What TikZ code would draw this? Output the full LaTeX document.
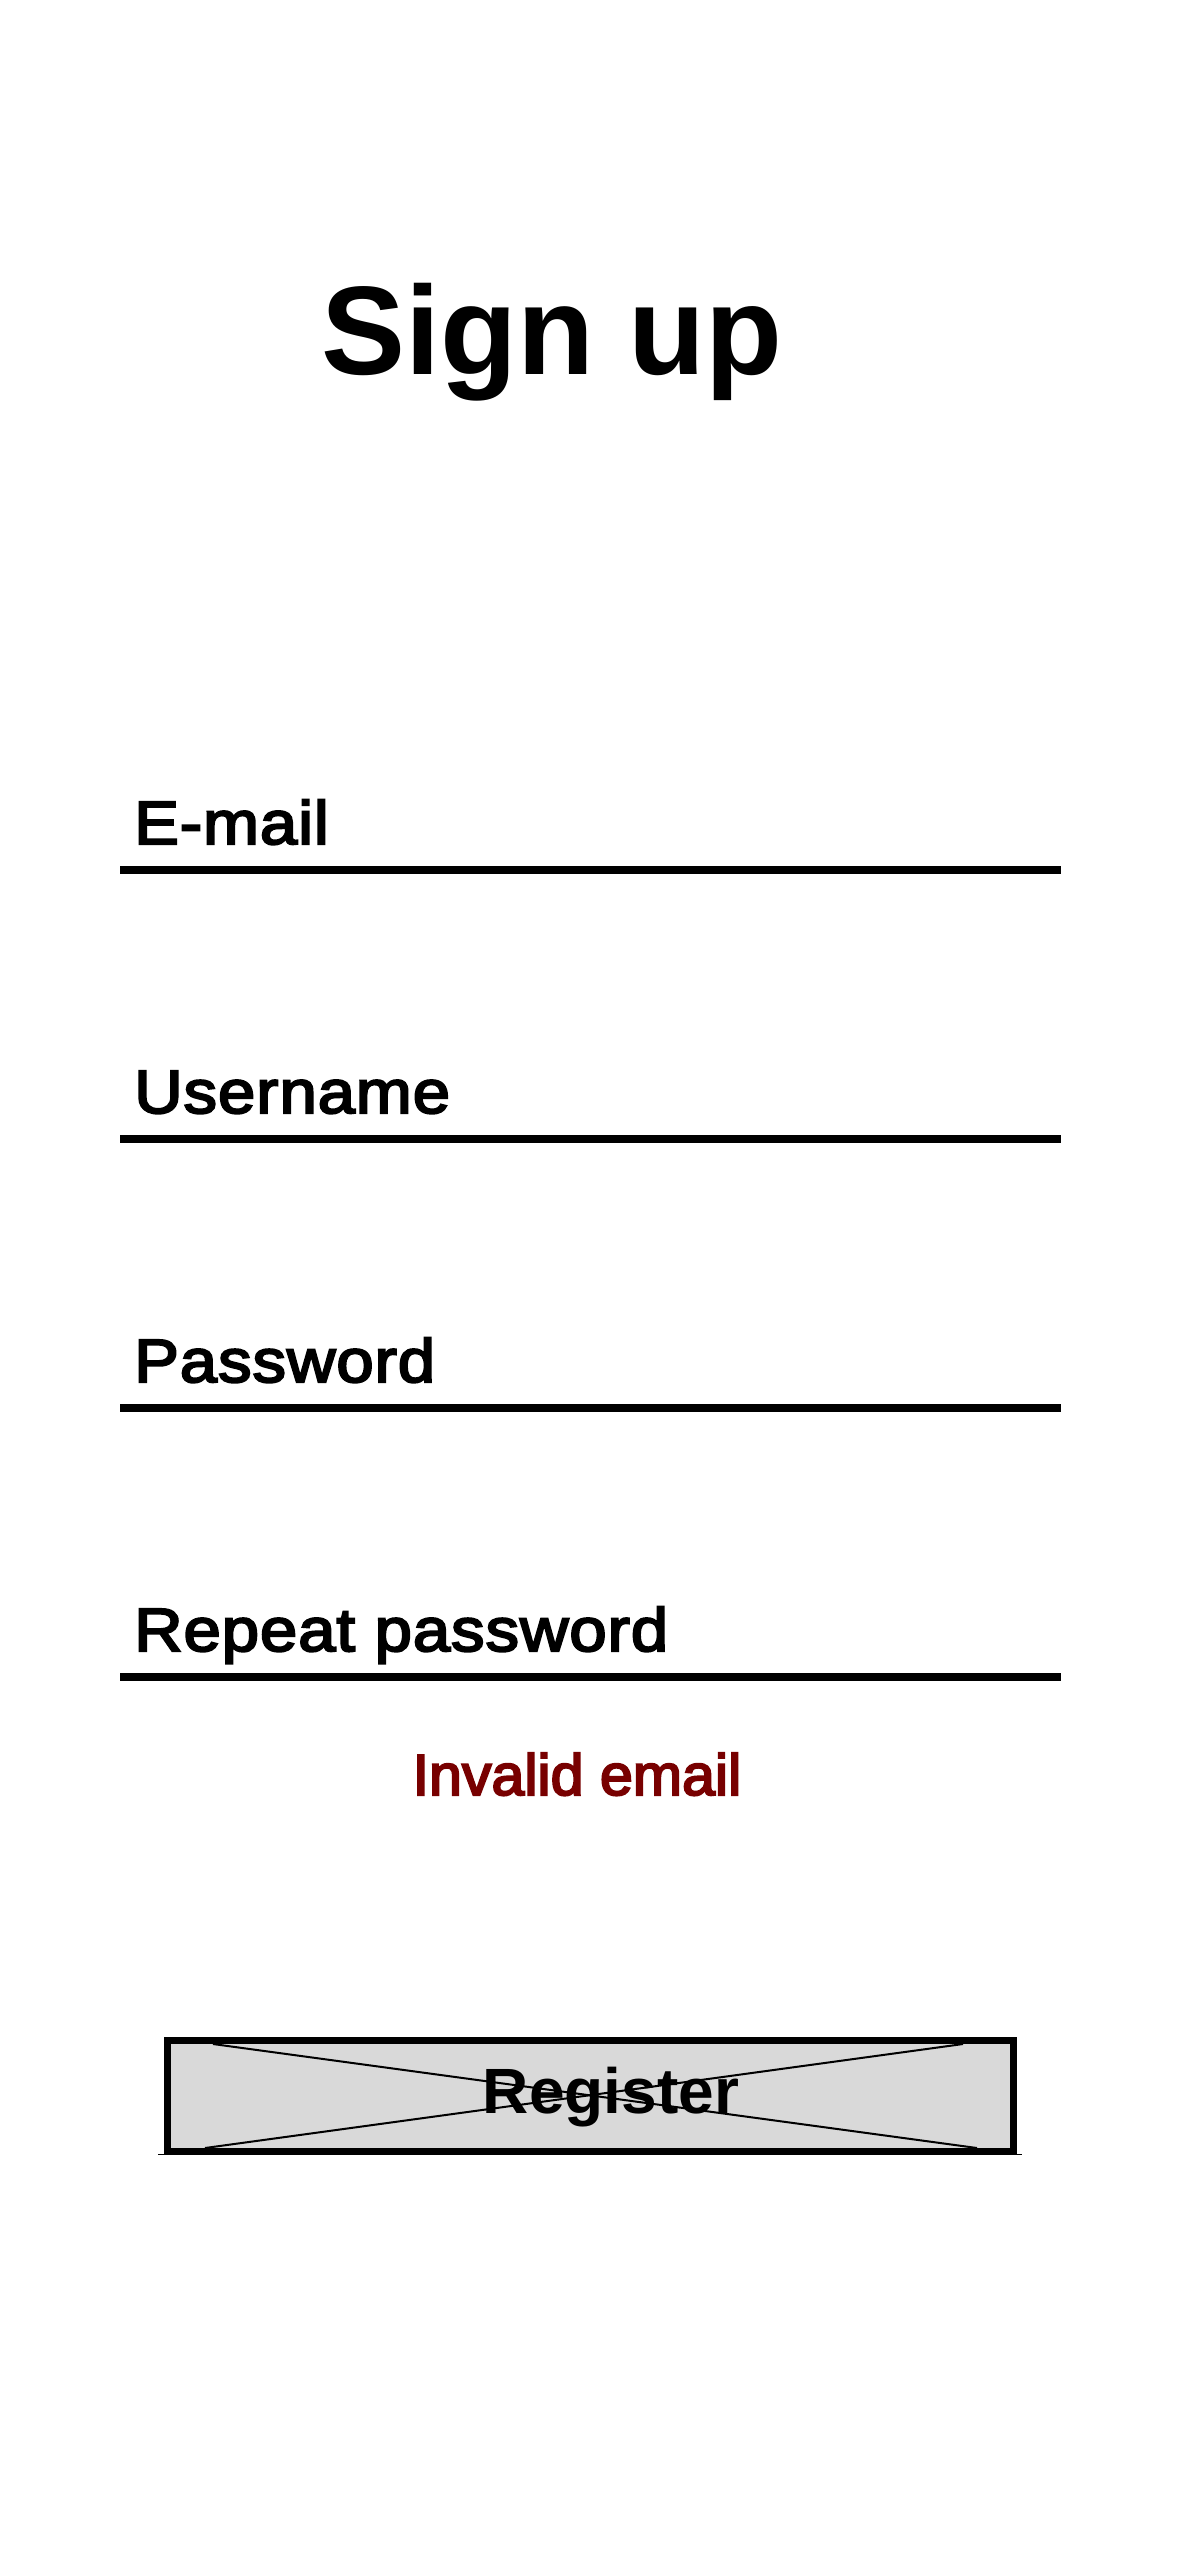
\documentclass[tikz,border=0pt]{standalone}
\usepackage{fontspec}
\setmainfont{Liberation Sans}
\newfontfamily\labelfont[FakeBold=3.5,FakeStretch=1.1,LetterSpace=1.5]{Liberation Sans}
\newfontfamily\errfont[FakeBold=3.5,FakeStretch=1.02]{Liberation Sans}
\definecolor{errred}{HTML}{780000}
\definecolor{btngray}{HTML}{D9D9D9}
\begin{document}
\begin{tikzpicture}[x=1pt,y=-1pt,
  lbl/.style={inner sep=0pt,anchor=base west,font=\labelfont\fontsize{61}{70}\selectfont},
  fieldline/.style={line width=8pt},
  btnbox/.style={draw=black,line width=7pt,fill=btngray},
  cross/.style={line width=2pt}]
\useasboundingbox[fill=white] (0,0) rectangle (1179,2556);
% title
\node[inner sep=0pt,anchor=base,font=\bfseries\fontsize{126}{130}\selectfont] (title) at (552,374) {Sign up};
% fields
\node[lbl] (lemail) at (134,844) {E-mail};
\draw[fieldline] (120,870) -- (1061,870);
\node[lbl] (luser) at (134,1113) {Username};
\draw[fieldline] (120,1139) -- (1061,1139);
\node[lbl] (lpass) at (134,1382) {Password};
\draw[fieldline] (120,1408) -- (1061,1408);
\node[lbl] (lrep) at (134,1651) {Repeat password};
\draw[fieldline] (120,1677) -- (1061,1677);
% error
\node[inner sep=0pt,anchor=base,text=errred,font=\errfont\fontsize{58}{66}\selectfont] (err) at (577,1795) {Invalid email};
% button
\draw[btnbox] (167.5,2040.5) rectangle (1013.5,2151.5);
\draw[line width=1.5pt] (158,2154.5) -- (1022,2154.5);
\draw[cross] (213,2044) -- (977,2148);
\draw[cross] (963,2044) -- (205,2148);
\node[inner sep=0pt,anchor=base,font=\bfseries\fontsize{64}{70}\selectfont] (reg) at (611,2113) {Register};
\end{tikzpicture}
\end{document}
